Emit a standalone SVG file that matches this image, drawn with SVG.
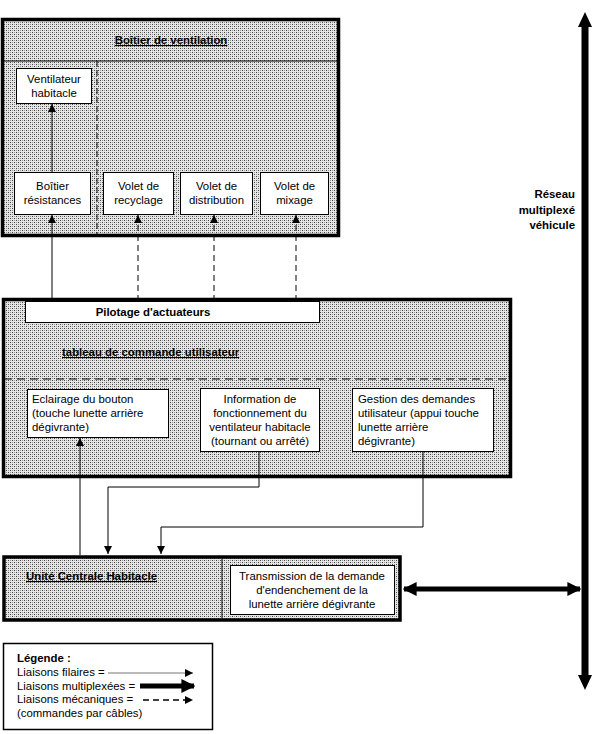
<svg xmlns="http://www.w3.org/2000/svg" width="592" height="734" viewBox="0 0 592 734">
<defs>
<pattern id="dots" width="4" height="4" patternUnits="userSpaceOnUse">
<rect width="4" height="4" fill="#e6e6e6"/>
<rect x="0" y="0" width="1" height="1" fill="#444"/>
<rect x="2" y="2" width="1" height="1" fill="#444"/>
<rect x="2" y="0" width="1" height="1" fill="#999"/>
<rect x="0" y="2" width="1" height="1" fill="#999"/>
</pattern>
<marker id="ah" viewBox="0 0 10 10" refX="10" refY="5" markerWidth="8" markerHeight="8" markerUnits="userSpaceOnUse" orient="auto">
<path d="M0,0 L10,5 L0,10 z" fill="#000"/>
</marker>
<marker id="bh" viewBox="0 0 10 10" refX="9" refY="5" markerWidth="14" markerHeight="14" markerUnits="userSpaceOnUse" orient="auto-start-reverse">
<path d="M0,0 L10,5 L0,10 z" fill="#000"/>
</marker>
</defs>
<style>
.zone{fill:url(#dots);stroke:#000;stroke-width:3.5}
.node{fill:#fff;stroke:#000;stroke-width:1}
.t{font-family:"Liberation Sans",Arial,sans-serif;font-size:11.4px;fill:#000}
.c{text-anchor:middle}
.b{font-weight:bold}
.u{text-decoration:underline}
.w{fill:none;stroke:#000;stroke-width:1}
.m{fill:none;stroke:#000;stroke-width:1;stroke-dasharray:6,4}
</style>

<g id="boitier-ventilation">
<rect class="zone" x="2.5" y="19.5" width="336" height="216"/>
<line x1="3" y1="61" x2="337" y2="61" stroke="#000" stroke-width="1"/>
<line x1="97" y1="61" x2="97" y2="234" stroke="#000" stroke-width="1" stroke-dasharray="6,3"/>
<text class="t b u c" x="171" y="44">Boîtier de ventilation</text>
</g>
<g id="ventilateur-habitacle">
<rect class="node" x="16.5" y="68.5" width="75" height="35"/>
<text class="t c" x="54" y="83">Ventilateur</text>
<text class="t c" x="54" y="97">habitacle</text>
</g>
<g id="boitier-resistances">
<rect class="node" x="14.5" y="172.5" width="76" height="42"/>
<text class="t c" x="52.5" y="190">Boîtier</text>
<text class="t c" x="52.5" y="204">résistances</text>
</g>
<g id="volet-recyclage">
<rect class="node" x="103.5" y="172.5" width="70" height="42"/>
<text class="t c" x="138.5" y="190">Volet de</text>
<text class="t c" x="138.5" y="204">recyclage</text>
</g>
<g id="volet-distribution">
<rect class="node" x="180.5" y="172.5" width="72" height="42"/>
<text class="t c" x="216.5" y="190">Volet de</text>
<text class="t c" x="216.5" y="204">distribution</text>
</g>
<g id="volet-mixage">
<rect class="node" x="260.5" y="172.5" width="68" height="42"/>
<text class="t c" x="294.5" y="190">Volet de</text>
<text class="t c" x="294.5" y="204">mixage</text>
</g>

<g id="tableau-commande">
<rect class="zone" x="3.5" y="299.5" width="507" height="177"/>
<line x1="4" y1="379" x2="509" y2="379" stroke="#000" stroke-width="1" stroke-dasharray="8,5"/>
<text class="t b u" x="62" y="356">tableau de commande utilisateur</text>
</g>
<g id="pilotage-actuateurs">
<rect class="node" x="25.5" y="301.5" width="294" height="21"/>
<text class="t b c" x="153" y="316">Pilotage d'actuateurs</text>
</g>
<g id="eclairage-bouton">
<rect class="node" x="27.5" y="389.5" width="141" height="48"/>
<text class="t" x="32" y="403">Eclairage du bouton</text>
<text class="t" x="32" y="417">(touche lunette arrière</text>
<text class="t" x="32" y="431">dégivrante)</text>
</g>
<g id="information-fonctionnement">
<rect class="node" x="200.5" y="388.5" width="119" height="63"/>
<text class="t c" x="260" y="403">Information de</text>
<text class="t c" x="260" y="417">fonctionnement du</text>
<text class="t c" x="260" y="431">ventilateur habitacle</text>
<text class="t c" x="260" y="445">(tournant ou arrêté)</text>
</g>
<g id="gestion-demandes">
<rect class="node" x="352.5" y="388.5" width="141" height="63"/>
<text class="t" x="358" y="403">Gestion des demandes</text>
<text class="t" x="358" y="417">utilisateur (appui touche</text>
<text class="t" x="358" y="431">lunette arrière</text>
<text class="t" x="358" y="445">dégivrante)</text>
</g>

<g id="unite-centrale-habitacle">
<rect class="zone" x="4" y="557" width="396" height="63" stroke-width="4"/>
<line x1="222" y1="559" x2="222" y2="618" stroke="#000" stroke-width="1"/>
<text class="t b u" x="26" y="580">Unité Centrale Habitacle</text>
</g>
<g id="transmission-demande">
<rect class="node" x="230.5" y="565.5" width="164" height="49"/>
<text class="t c" x="312" y="580">Transmission de la demande</text>
<text class="t c" x="312" y="594">d'endenchement de la</text>
<text class="t c" x="312" y="608">lunette arrière dégivrante</text>
</g>

<g id="reseau-multiplexe">
<text class="t b" text-anchor="end" x="575" y="198">Réseau</text>
<text class="t b" text-anchor="end" x="575" y="214">multiplexé</text>
<text class="t b" text-anchor="end" x="575" y="229">véhicule</text>
</g>

<g id="connectors">
<line class="w" x1="52" y1="172" x2="52" y2="104" marker-end="url(#ah)"/>
<line class="w" x1="52" y1="301" x2="52" y2="215" marker-end="url(#ah)"/>
<line class="m" x1="138" y1="301" x2="138" y2="215" marker-end="url(#ah)"/>
<line class="m" x1="214" y1="301" x2="214" y2="215" marker-end="url(#ah)"/>
<line class="m" x1="296" y1="301" x2="296" y2="215" marker-end="url(#ah)"/>
<line class="w" x1="80" y1="555" x2="80" y2="438" marker-end="url(#ah)"/>
<polyline class="w" points="259,452 259,487 108,487 108,554" marker-end="url(#ah)"/>
<polyline class="w" points="423,452 423,527 161,527 161,554" marker-end="url(#ah)"/>
<line x1="404" y1="589" x2="580" y2="589" stroke="#000" stroke-width="5" marker-start="url(#bh)" marker-end="url(#bh)"/>
<line x1="585" y1="26" x2="585" y2="676" stroke="#000" stroke-width="7"/>
<path d="M578,27 L585,12 L592,27 z" fill="#000"/>
<path d="M578,675 L585,690 L592,675 z" fill="#000"/>
</g>

<g id="legende">
<rect x="3.5" y="643.5" width="209" height="86" fill="#fff" stroke="#000" stroke-width="1.5"/>
<text class="t b" x="17" y="662">Légende :</text>
<text class="t" x="17" y="676">Liaisons filaires =</text>
<text class="t" x="17" y="690">Liaisons multiplexées =</text>
<text class="t" x="17" y="703">Liaisons mécaniques =</text>
<text class="t" x="17" y="717">(commandes par câbles)</text>
<line x1="108" y1="673" x2="193" y2="673" stroke="#777" stroke-width="1" marker-end="url(#ah)"/>
<line x1="140" y1="686" x2="194" y2="686" stroke="#000" stroke-width="5" marker-end="url(#bh)"/>
<line x1="143" y1="700" x2="193" y2="700" stroke="#000" stroke-width="1.5" stroke-dasharray="6,4" marker-end="url(#ah)"/>
</g>
</svg>
